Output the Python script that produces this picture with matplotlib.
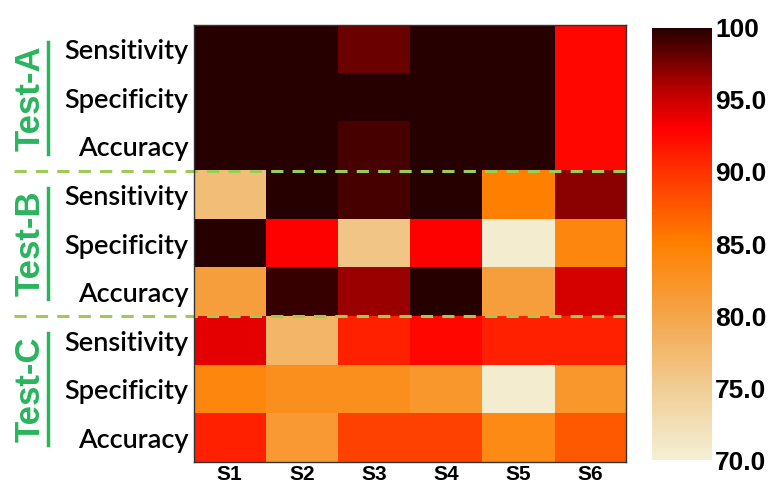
import numpy as np
import matplotlib
matplotlib.use("Agg")
import matplotlib.pyplot as plt
from matplotlib.colors import LinearSegmentedColormap
from matplotlib import transforms

# данные
samples = ["S1", "S2", "S3", "S4", "S5", "S6"]
metrics = ["Sensitivity", "Specificity", "Accuracy"]
tests = ["Test-A", "Test-B", "Test-C"]

test_a = [[100, 100, 98.0, 100, 100, 92.5],
          [100, 100, 100, 100, 100, 92.5],
          [100, 100, 99.0, 100, 100, 92.5]]
test_b = [[77.0, 100, 99.0, 100, 85.0, 97.0],
          [100, 93.0, 76.0, 93.0, 70.5, 84.0],
          [81.0, 99.5, 96.5, 100, 81.0, 94.5]]
test_c = [[94.0, 78.0, 91.0, 92.5, 91.0, 91.0],
          [84.0, 83.0, 83.0, 82.0, 70.5, 82.0],
          [91.0, 81.5, 89.0, 89.0, 83.5, 87.5]]

cbar_ticks = [70, 75, 80, 85, 90, 95, 100]
cbar_labels = ["70.0", "75.0", "80.0", "85.0", "90.0", "95.0", "100"]

values = np.array(test_a + test_b + test_c)

# цветовая карта, подобранная по шкале
stops = [(70, "#f4f0d6"), (75, "#f1cd94"), (80, "#f5a54a"), (85, "#ff8000"),
         (90, "#ff3300"), (93, "#ff0000"), (96, "#b00000"), (100, "#260000")]
cmap = LinearSegmentedColormap.from_list(
    "custom", [((v - 70) / 30, c) for v, c in stops])

green = "#2ab45e"
dash_green = "#9ccc55"
arial = ["Liberation Sans", "DejaVu Sans"]

fig = plt.figure(figsize=(7.81, 4.88), dpi=100)
ax = fig.add_axes([0.248, 0.053, 0.5535, 0.896])
cax = fig.add_axes([0.835, 0.057, 0.077, 0.886])

im = ax.imshow(values, cmap=cmap, vmin=70, vmax=100, aspect="auto",
               interpolation="nearest")

ax.set_xticks(range(len(samples)))
ax.set_xticklabels(samples, fontsize=15, fontweight="bold", family=arial)
ax.set_yticks(range(values.shape[0]))
ax.set_yticklabels(metrics * len(tests), fontsize=19.5, fontweight="semibold",
                   family=["Lato", "DejaVu Sans"])
ax.tick_params(length=0, pad=4)
ax.tick_params(axis="x", pad=2)
for sp in ax.spines.values():
    sp.set_linewidth(1.0)
    sp.set_color("#333333")

# пунктирные разделители групп
for k in range(1, len(tests)):
    ax.axhline(k * 3 - 0.5, xmin=-0.415, xmax=1.01, color=dash_green,
               linestyle=(0, (4, 3)), linewidth=2.2, clip_on=False)

# подписи групп с подчёркиванием
trans = transforms.blended_transform_factory(ax.transAxes, ax.transData)
for k, name in enumerate(tests):
    yc = k * 3 + 1
    ax.text(-0.378, yc, name, rotation=90, ha="center", va="center",
            fontsize=25, fontweight="bold", color=green, transform=trans,
            family=arial)
    ax.plot([-0.337, -0.337], [yc - 1.15, yc + 1.15], color=green,
            linewidth=2.5, transform=trans, clip_on=False)

cb = fig.colorbar(im, cax=cax, ticks=cbar_ticks)
cb.outline.set_visible(False)
cb.set_ticklabels(cbar_labels)
cax.tick_params(length=0, pad=2)
for lbl in cax.get_yticklabels():
    lbl.set_fontsize(19)
    lbl.set_fontweight("bold")
    lbl.set_family(arial)

fig.savefig("out.png", dpi=100)
